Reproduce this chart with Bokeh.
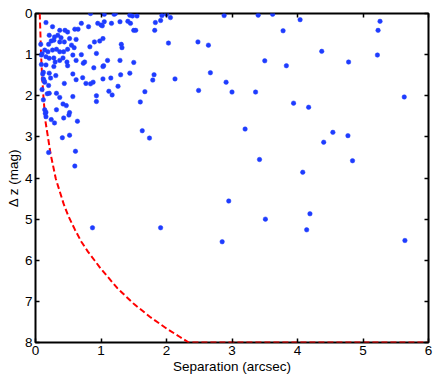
from bokeh.plotting import figure
from bokeh.models import Range1d, FixedTicker, LinearAxis, CustomLabelingPolicy
from bokeh.embed import file_html
from bokeh.resources import INLINE

# Separation (arcsec) and magnitude difference of detected companions
sep = [0.84, 1.03, 1.05, 1.20, 1.22, 1.44, 1.48, 1.55, 1.93, 2.00, 1.91, 2.06, 2.88, 3.40, 3.62, 4.04, 5.26,
       3.78, 2.03, 2.48, 2.64, 3.50, 3.83, 2.67, 2.13, 2.91, 2.49, 3.00, 3.36, 3.94, 3.20, 5.23, 4.37, 4.78, 5.22, 4.17, 5.63,
       4.54, 4.40, 4.77, 3.42, 4.84, 4.08, 2.95, 4.19, 3.51, 4.14, 1.91, 2.85, 5.64, 1.63, 1.74, 0.41, 0.52, 0.20, 0.61, 0.60,
       0.87, 0.64, 0.29, 0.24, 0.15, 0.16, 0.43, 0.51, 0.52,
       0.09, 0.16, 0.28, 0.30, 0.48, 0.49, 0.73, 0.89, 1.03, 0.11, 0.21, 0.31, 0.12, 0.23, 0.57, 0.14, 0.20, 0.62, 0.44, 0.72,
       0.77, 0.84, 0.88, 1.03, 0.21, 0.32, 0.37, 0.57, 0.93, 0.42, 0.47, 0.93, 0.14, 0.16, 0.32,
       0.16, 0.26, 0.37, 0.45, 0.49, 0.60, 0.65, 0.70, 0.81, 0.95, 1.00, 0.21, 0.29, 0.34, 0.39, 0.24, 0.28, 0.37, 0.44, 0.52,
       0.62, 0.55, 0.20, 0.14, 0.19, 0.26, 0.32, 0.37, 0.43, 0.49, 0.59, 0.70, 0.83, 0.90, 0.98, 0.09, 0.16, 0.21, 0.28, 0.37,
       0.42, 0.62, 0.57, 0.75, 0.93,
       1.05, 1.16, 1.29, 1.41, 1.45, 1.02, 1.83, 1.50, 1.53, 1.82, 1.03, 1.31, 1.32, 1.10, 1.29, 1.50, 1.04, 1.15, 1.30, 1.44,
       1.26, 1.12, 1.17, 1.81, 1.79, 1.67, 1.60,
       0.10, 0.12, 0.13, 0.18, 0.08, 0.12, 0.10]
dz = [0.00, 0.00, 0.02, 0.02, 0.00, 0.04, 0.06, 0.06, 0.05, 0.02, 0.17, 0.10, 0.05, 0.04, 0.02, 0.15, 0.19,
      0.42, 0.72, 0.69, 0.77, 1.15, 1.27, 1.44, 1.59, 1.67, 1.87, 1.91, 1.91, 2.18, 2.81, 0.41, 0.92, 1.18, 1.01, 2.28, 2.03,
      2.89, 3.13, 2.97, 3.55, 3.58, 3.86, 4.56, 4.87, 5.00, 5.26, 5.21, 5.55, 5.52, 2.85, 3.03, 3.02, 2.96, 3.38, 3.35, 3.71,
      5.21, 2.62, 2.66, 2.58, 2.43, 2.51, 2.54, 2.47, 2.41,
      1.24, 1.25, 1.29, 1.18, 1.18, 1.27, 1.21, 1.32, 1.29, 1.47, 1.45, 1.51, 1.59, 1.57, 1.47, 1.67, 1.75, 1.61, 1.70, 1.56,
      1.70, 1.71, 1.67, 1.59, 1.94, 1.94, 2.04, 2.02, 2.00, 2.20, 2.24, 2.14, 2.34, 2.40, 2.34,
      0.22, 0.32, 0.41, 0.41, 0.45, 0.38, 0.38, 0.24, 0.32, 0.24, 0.28, 0.53, 0.57, 0.53, 0.59, 0.67, 0.65, 0.69, 0.69, 0.61,
      0.63, 0.77, 0.75, 0.89, 0.93, 0.89, 0.87, 0.93, 0.93, 0.87, 0.83, 1.00, 0.81, 0.69, 0.67, 1.01, 1.05, 1.09, 1.08, 1.14,
      1.08, 1.14, 1.01, 1.18, 0.97,
      0.20, 0.24, 0.20, 0.19, 0.24, 0.30, 0.22, 0.41, 0.41, 0.41, 0.61, 0.75, 0.83, 1.14, 1.14, 1.19, 1.27, 1.57, 1.49, 1.45,
      1.77, 1.89, 1.98, 1.49, 1.62, 1.90, 2.15,
      0.98, 1.43, 1.63, 1.95, 0.75, 2.10, 1.85]

# Detection limit (contrast curve)
limit_sep = [0.065, 0.075, 0.085, 0.10, 0.12, 0.15, 0.23, 0.31, 0.43, 0.50, 0.60, 0.70, 0.80, 0.90, 0.99,
             1.25, 1.50, 1.75, 2.01, 2.20, 2.34, 6.0]
limit_dz = [0.0, 0.5, 1.0, 1.5, 2.0, 2.6, 3.41, 4.02, 4.63, 4.92, 5.25, 5.55, 5.79, 6.0, 6.19,
            6.68, 7.06, 7.38, 7.67, 7.86, 8.0, 8.0]

x_ticks = [0, 1, 2, 3, 4, 5, 6]
y_ticks = [0, 1, 2, 3, 4, 5, 6, 7, 8]

FONT = "Liberation Sans"
FS = "13.5px"

p = figure(width=436, height=378, output_backend="svg", toolbar_location=None,
           x_range=Range1d(0, 6), y_range=Range1d(8, 0),
           frame_width=393, frame_height=329,
           min_border_left=35, min_border_right=8, min_border_top=13, min_border_bottom=36,
           x_axis_label="Separation (arcsec)", y_axis_label="Δ z (mag)")
p.background_fill_color = "white"
p.border_fill_color = "white"
p.grid.visible = False
p.outline_line_color = "black"
p.outline_line_width = 2

for ax in (p.xaxis[0], p.yaxis[0]):
    ax.axis_line_color = None
    ax.major_tick_in = 4
    ax.major_tick_out = 0
    ax.major_tick_line_width = 1.5
    ax.minor_tick_line_color = None
    ax.major_label_text_font = FONT
    ax.major_label_text_font_size = FS
    ax.major_label_text_color = "black"
    ax.axis_label_text_font = FONT
    ax.axis_label_text_font_size = FS
    ax.axis_label_text_font_style = "normal"
    ax.axis_label_text_color = "black"
    ax.major_label_standoff = 3
    ax.axis_label_standoff = 1

p.xaxis[0].ticker = FixedTicker(ticks=x_ticks)
p.yaxis[0].ticker = FixedTicker(ticks=y_ticks)

hide_labels = "for (const i of indices) indices.unset(i)"
top = LinearAxis(ticker=FixedTicker(ticks=x_ticks), axis_line_color=None,
                 major_tick_in=4, major_tick_out=0, major_tick_line_width=1.5,
                 minor_tick_line_color=None, major_label_text_font_size="1px",
                 major_label_standoff=0,
                 major_label_policy=CustomLabelingPolicy(code=hide_labels))
right = LinearAxis(ticker=FixedTicker(ticks=y_ticks), axis_line_color=None,
                   major_tick_in=4, major_tick_out=0, major_tick_line_width=1.5,
                   minor_tick_line_color=None, major_label_text_font_size="1px",
                   major_label_standoff=0,
                   major_label_policy=CustomLabelingPolicy(code=hide_labels))
p.add_layout(top, "above")
p.add_layout(right, "right")

p.line(limit_sep, limit_dz, line_color="#ff0000", line_width=2, line_dash="6 3")
p.scatter(sep, dz, size=4.5, fill_color="#1e3cff", line_color="#1e3cff", line_width=0.5)

open("out.html", "w").write(file_html(p, INLINE))
